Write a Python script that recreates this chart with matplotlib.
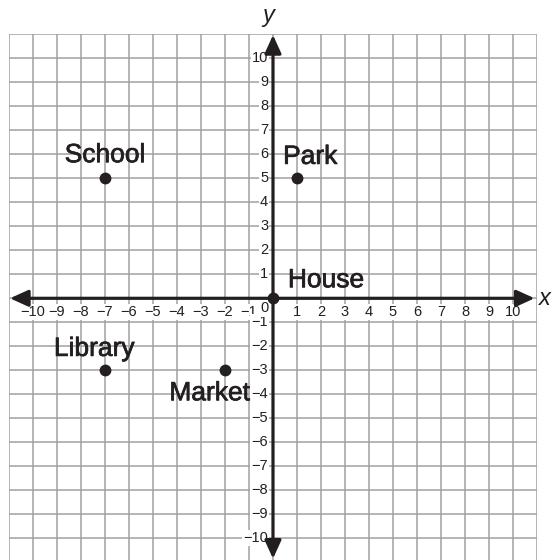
import matplotlib.pyplot as plt
import matplotlib.patheffects as pe
from matplotlib.patches import FancyArrowPatch

# places on the map
places = ['School', 'Park', 'House', 'Library', 'Market']
place_x = [-7, 1, 0, -7, -2]
place_y = [5, 5, 0, -3, -3]

tick_values = list(range(-10, 11))

INK = '#231f20'
GRID = '#a0a0a0'

# label layout: (dx, dy, ha) relative to the point, baseline aligned
label_layout = {
    'School': (0.0, 0.67, 'center'),
    'Park': (-0.58, 0.6, 'left'),
    'House': (0.62, 0.46, 'left'),
    'Library': (-0.45, 0.6, 'center'),
    'Market': (1.04, -1.25, 'right'),
}

plt.rcParams['font.family'] = ['Liberation Sans', 'DejaVu Sans']

fig = plt.figure(figsize=(5.54, 5.60), dpi=100, facecolor='white')
ax = fig.add_axes([9 / 554, -2.3 / 560, 528 / 554, 528 / 560])
ax.set_xlim(-11, 11)
ax.set_ylim(-11, 11)

# grid
for v in range(-11, 12):
    ax.axvline(v, color=GRID, linewidth=1.1, zorder=1)
    ax.axhline(v, color=GRID, linewidth=1.1, zorder=1)
for s in ax.spines.values():
    s.set_visible(False)
ax.set_xticks([])
ax.set_yticks([])

# axes with arrows
arrow_style = '<|-|>,head_length=0.55,head_width=0.25'
ax.add_patch(FancyArrowPatch((-10.96, 0), (10.9, 0), arrowstyle=arrow_style,
                             mutation_scale=20, color=INK, linewidth=2.3,
                             shrinkA=0, shrinkB=0, zorder=4))
ax.add_patch(FancyArrowPatch((0, -10.85), (0, 10.97), arrowstyle=arrow_style,
                             mutation_scale=20, color=INK, linewidth=2.3,
                             shrinkA=0, shrinkB=0, zorder=4))
ax.text(11.33, 0.0, 'x', fontsize=17, style='italic', color=INK,
        ha='center', va='center', clip_on=False)
ax.text(-0.2, 11.8, 'y', fontsize=17, style='italic', color=INK,
        ha='center', va='center', clip_on=False)

# tick labels
box = dict(boxstyle='square,pad=0.08', facecolor='white', edgecolor='none')
for v in tick_values:
    txt = str(v).replace('-', '\u2212')
    if v == 0:
        ax.text(-0.35, -0.42, txt, fontsize=10.5, color=INK, ha='center',
                va='center', bbox=box, zorder=3)
        continue
    ax.text(v, -0.58, txt, fontsize=10.5, color=INK, ha='center',
            va='center', bbox=box, zorder=3)
    ax.text(-0.2, v, txt, fontsize=10.5, color=INK, ha='right',
            va='center', bbox=box, zorder=3)

# points and labels
ax.plot(place_x, place_y, 'o', markersize=7.5, color=INK, zorder=5,
        clip_on=False)
for name, px, py in zip(places, place_x, place_y):
    dx, dy, ha = label_layout[name]
    ax.text(px + dx, py + dy, name, fontsize=19, color=INK, ha=ha,
            va='baseline', zorder=6,
            path_effects=[pe.withStroke(linewidth=0.5, foreground=INK)])

fig.savefig('out.png', dpi=100, facecolor='white')
